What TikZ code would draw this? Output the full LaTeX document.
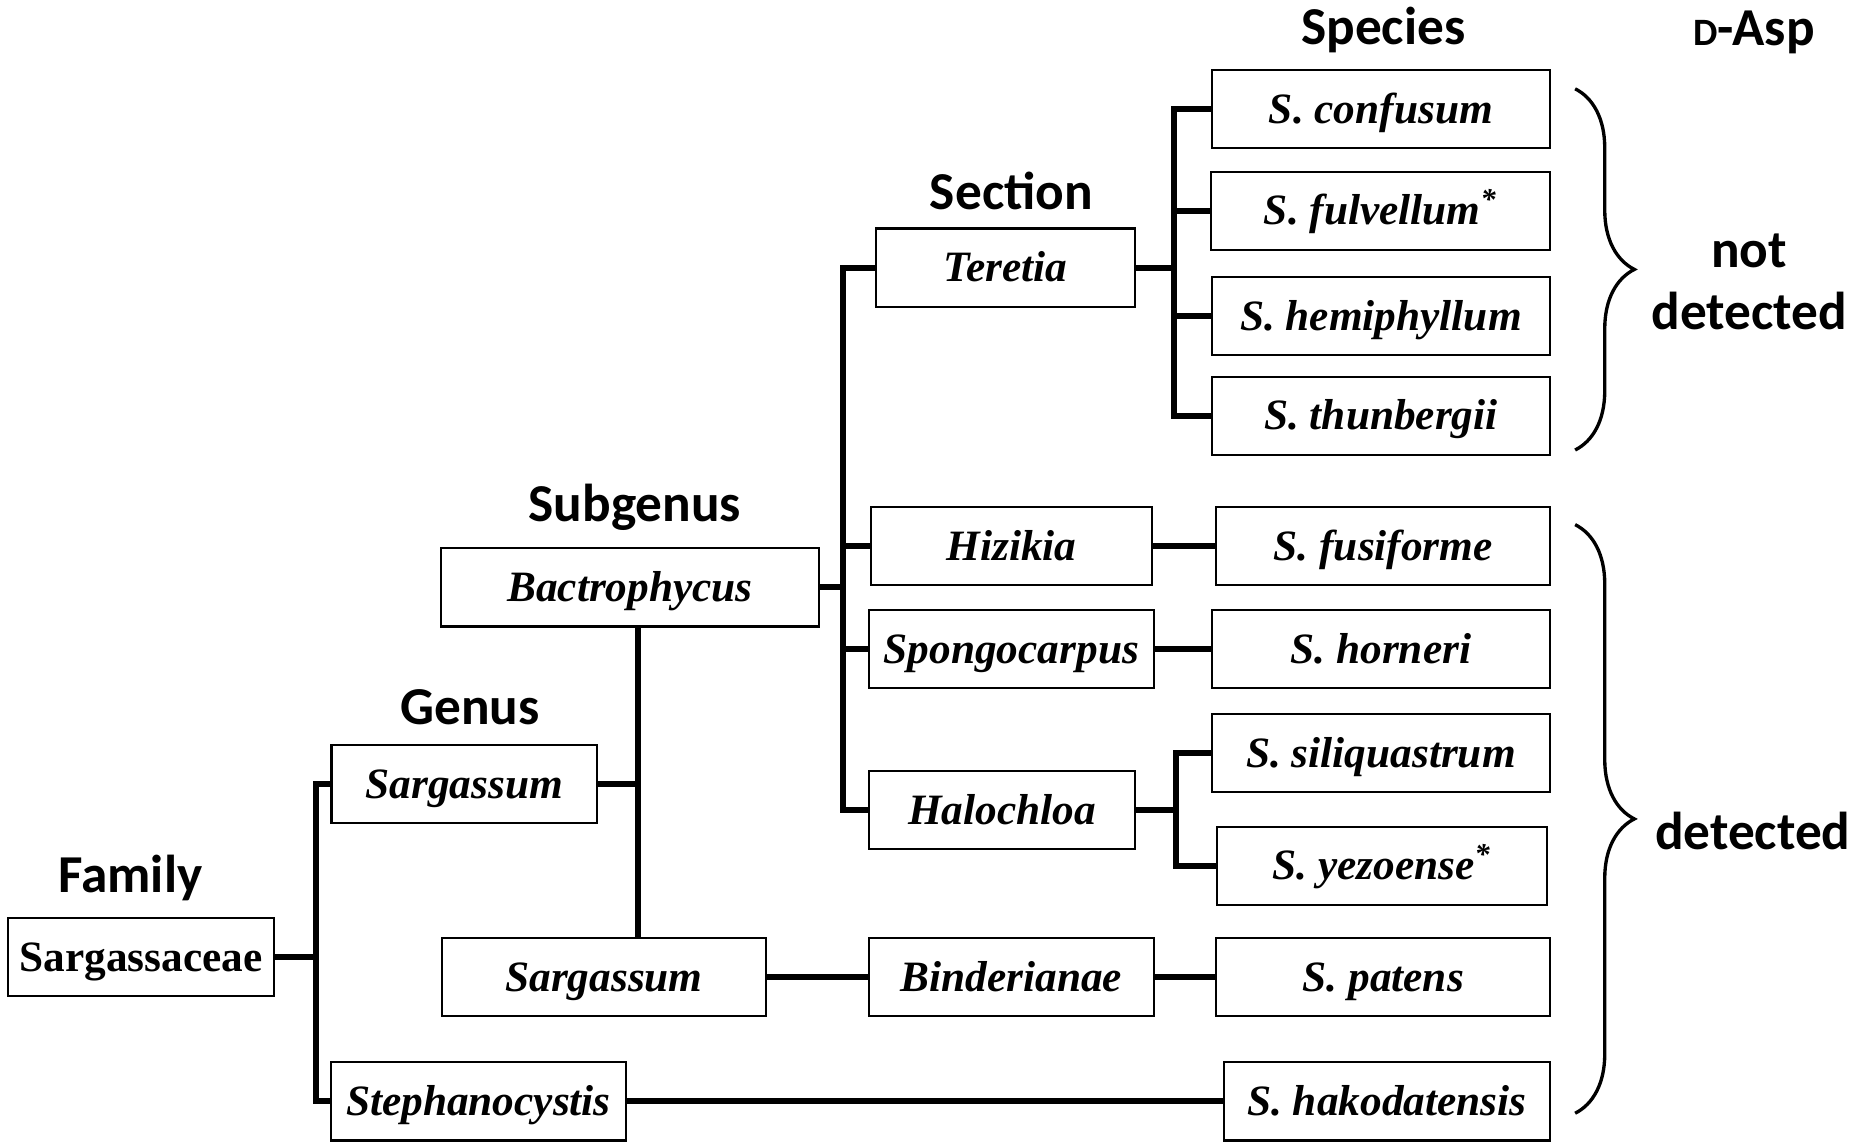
\documentclass[tikz,border=0pt]{standalone}
\usepackage{fontspec}
\setmainfont{Liberation Serif}
\newfontfamily\headfont{Carlito}
\usetikzlibrary{positioning,decorations.pathreplacing,calc}

\begin{document}
\begin{tikzpicture}[x=0.01cm, y=-0.01cm,
    every node/.style={align=center},
    taxonBox/.style={
        draw, line width=0.5pt,
        minimum height=0.66cm, inner sep=0pt,
        text height=8.5pt, text depth=1.7pt,
        font=\fontsize{10.4}{12}\selectfont\bfseries\itshape
      },
    speciesBox/.style={taxonBox, minimum width=2.85cm},
    rankLabel/.style={font=\fontsize{12.8}{15}\selectfont\headfont\bfseries},
    branchLine/.style={line width=1.4pt},
    groupBrace/.style={decorate, decoration={brace, amplitude=0.5cm}, line width=0.8pt}
  ]
  \useasboundingbox (0,0) rectangle (1568,965);

  % Rank headings
  \node[rankLabel] (famLabel) at (110,741) {Family};
  \node[rankLabel] (genLabel) at (397,597) {Genus};
  \node[rankLabel] (subLabel) at (536,428) {Subgenus};
  \node[rankLabel] (secLabel) at (854,161) {Section};
  \node[rankLabel] (spcLabel) at (1168,25) {Species};
  \node[rankLabel] (aspLabel) at (1481,27) {{\fontsize{9.3}{11}\selectfont D}-Asp};

  % Family, genus, subgenus
  \node[taxonBox, minimum width=2.24cm, font=\fontsize{10.4}{12}\selectfont\bfseries] (fam) at (119,808) {Sargassaceae};
  \node[taxonBox, minimum width=2.24cm] (gen) at (392,662) {Sargassum};
  \node[taxonBox, minimum width=2.49cm] (steph) at (404,930) {Stephanocystis};
  \node[taxonBox, minimum width=3.19cm] (bact) at (532,496) {Bactrophycus};
  \node[taxonBox, minimum width=2.74cm] (subSarg) at (510,825) {Sargassum};

  % Sections
  \node[taxonBox, minimum width=2.18cm] (ter) at (849,226) {Teretia};
  \node[taxonBox, minimum width=2.37cm] (hiz) at (854,461) {Hizikia};
  \node[taxonBox, minimum width=2.41cm] (spo) at (854,548) {Spongocarpus};
  \node[taxonBox, minimum width=2.24cm] (halo) at (846,684) {Halochloa};
  \node[taxonBox, minimum width=2.41cm] (bind) at (854,825) {Binderianae};

  % Species
  \node[speciesBox] (conf) at (1166,92) {S. confusum};
  \node[speciesBox, minimum width=2.86cm] (fulv) at (1166,178) {S. fulvellum\textsuperscript{*}};
  \node[speciesBox] (hemi) at (1166,267) {S. hemiphyllum};
  \node[speciesBox] (thun) at (1166,351) {S. thunbergii};
  \node[speciesBox, minimum width=2.82cm] (fusi) at (1168,461) {S. fusiforme};
  \node[speciesBox] (horn) at (1166,548) {S. horneri};
  \node[speciesBox] (sili) at (1166,636) {S. siliquastrum};
  \node[speciesBox, minimum width=2.79cm] (yezo) at (1167,731) {S. yezoense\textsuperscript{*}};
  \node[speciesBox, minimum width=2.82cm] (pat) at (1168,825) {S. patens};
  \node[speciesBox, minimum width=2.75cm] (hako) at (1171,930) {S. hakodatensis};

  % Branches
  \draw[branchLine] (fam.east) -- ++(35,0) coordinate (j0);
  \draw[branchLine] (gen.west) -| (j0) |- (steph.west);
  \draw[branchLine] (gen.east) -- ++(34,0) coordinate (j1);
  \draw[branchLine] (j1 |- bact.south) -- (j1 |- subSarg.north);
  \draw[branchLine] (bact.east) -- ++(19,0) coordinate (j2);
  \draw[branchLine] (ter.west) -| (j2) |- (halo.west);
  \draw[branchLine] (j2 |- hiz.west) -- (hiz.west);
  \draw[branchLine] (j2 |- spo.west) -- (spo.west);
  \draw[branchLine] (ter.east) -- ++(32,0) coordinate (j3);
  \draw[branchLine] (conf.west) -| (j3) |- (thun.west);
  \draw[branchLine] (j3 |- fulv.west) -- (fulv.west);
  \draw[branchLine] (j3 |- hemi.west) -- (hemi.west);
  \draw[branchLine] (halo.east) -- ++(34,0) coordinate (j4);
  \draw[branchLine] (sili.west) -| (j4) |- (yezo.west);
  \draw[branchLine] (hiz.east) -- (fusi.west);
  \draw[branchLine] (spo.east) -- (horn.west);
  \draw[branchLine] (subSarg.east) -- (bind.west);
  \draw[branchLine] (bind.east) -- (pat.west);
  \draw[branchLine] (steph.east) -- (hako.west);

  % D-Asp groups
  \draw[groupBrace] (1330,75) -- (1330,380);
  \draw[groupBrace] (1330,443) -- (1330,940);
  \node[rankLabel] (notDet) at (1477,238) {not\\detected};
  \node[rankLabel] (det) at (1480,702) {detected};
\end{tikzpicture}
\end{document}
